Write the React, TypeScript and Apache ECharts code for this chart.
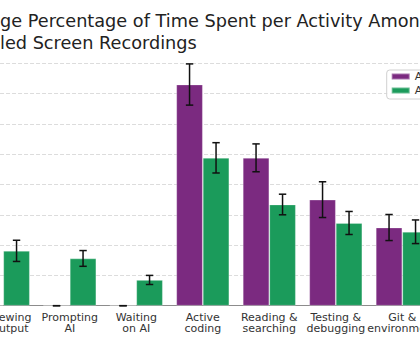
import React, { useEffect, useRef } from "react";
import * as echarts from "echarts";

const categories = [
  "Reviewing\nAI output",
  "Prompting\nAI",
  "Waiting\non AI",
  "Active\ncoding",
  "Reading &\nsearching",
  "Testing &\ndebugging",
  "Git &\nenvironment",
];
const seriesNames = ["AI Disallowed", "AI Allowed"];
const disallowed = [0, 0, 0, 36.5, 24.4, 17.5, 12.9];
const disallowedErr = [0, 0, 0, 3.4, 2.3, 2.95, 2.15];
const allowed = [9.05, 7.8, 4.25, 24.4, 16.7, 13.65, 12.2];
const allowedErr = [1.75, 1.3, 0.75, 2.5, 1.7, 1.9, 1.95];
const yTicks = [0, 5, 10, 15, 20, 25, 30, 35, 40];
const titleLine1 = "Average Percentage of Time Spent per Activity Among";
const titleLine2 = "Labeled Screen Recordings";

const FONT = "DejaVu Sans";
const PURPLE = "#7b2a80";
const GREEN = "#1b9b5b";
const SHIFT = 100;
const CHART_W = 620;
const CHART_H = 345;
const BAR_W = 26.5;

function measure(text: string, size: number): number {
  const c = document.createElement("canvas");
  const ctx = c.getContext("2d");
  if (!ctx) return 0;
  ctx.font = `${size}px "${FONT}"`;
  return ctx.measureText(text).width;
}

export default function App() {
  const ref = useRef<HTMLDivElement>(null);
  useEffect(() => {
    if (!ref.current) return;
    const chart = echarts.init(ref.current, null, { renderer: "svg" });
    const titleSize = 17.7;
    const off1 = measure("Avera", titleSize);
    const off2 = measure("Labe", titleSize);

    const errData = (vals: number[], errs: number[]) =>
      vals.map((v, i) => [i, Math.max(0, v - errs[i]), v + errs[i]]);

    const errSeries = (name: string, vals: number[], errs: number[], offset: number) => ({
      type: "custom",
      name: name + " err",
      z: 10,
      encode: { x: 0, y: [1, 2] },
      data: errData(vals, errs),
      renderItem: (params: any, api: any) => {
        const x = api.value(0);
        const pLo = api.coord([x, api.value(1)]);
        const pHi = api.coord([x, api.value(2)]);
        const cx = pLo[0] + offset;
        const cap = 3.7;
        const st = { stroke: "#111", lineWidth: 1.5 };
        return {
          type: "group",
          children: [
            { type: "line", shape: { x1: cx, y1: pHi[1], x2: cx, y2: pLo[1] }, style: st },
            { type: "line", shape: { x1: cx - cap, y1: pHi[1], x2: cx + cap, y2: pHi[1] }, style: st },
            { type: "line", shape: { x1: cx - cap, y1: pLo[1], x2: cx + cap, y2: pLo[1] }, style: st },
          ],
        };
      },
    });

    chart.setOption({
      animation: false,
      textStyle: { fontFamily: FONT },
      title: [
        {
          text: titleLine1,
          left: SHIFT - off1,
          top: 12,
          padding: 0,
          textStyle: { fontFamily: FONT, fontSize: titleSize, fontWeight: "normal", color: "#222" },
        },
        {
          text: titleLine2,
          left: SHIFT - off2,
          top: 34,
          padding: 0,
          textStyle: { fontFamily: FONT, fontSize: titleSize, fontWeight: "normal", color: "#222" },
        },
      ],
      legend: {
        data: seriesNames,
        orient: "vertical",
        left: 486.7,
        top: 70,
        padding: [1, 4, 3, 4],
        itemWidth: 18,
        itemHeight: 6,
        itemGap: 3,
        itemTextGap: 7,
        icon: "rect",
        borderColor: "#d0d0d0",
        borderWidth: 1,
        borderRadius: 3,
        backgroundColor: "rgba(255,255,255,0.85)",
        textStyle: { fontFamily: FONT, fontSize: 11, lineHeight: 10, color: "#333" },
      },
      grid: {
        left: SHIFT - 29.95,
        width: 465.5,
        top: 63.3,
        height: 242.4,
      },
      xAxis: {
        type: "category",
        data: categories,
        axisLine: { lineStyle: { color: "#8c8c8c", width: 1 } },
        axisTick: { alignWithLabel: true, interval: 0, length: 3, lineStyle: { color: "#666" } },
        axisLabel: {
          interval: 0,
          fontFamily: FONT,
          fontSize: 11,
          lineHeight: 11.5,
          color: "#333",
          margin: 6,
        },
      },
      yAxis: {
        type: "value",
        min: yTicks[0],
        max: yTicks[yTicks.length - 1],
        interval: 5,
        axisLine: { show: false },
        axisTick: { show: false },
        axisLabel: { show: false },
        splitLine: { lineStyle: { color: "#dcdcdc", type: [4, 2], width: 1 } },
      },
      series: [
        {
          type: "bar",
          name: seriesNames[0],
          data: disallowed,
          barWidth: BAR_W,
          barGap: "0%",
          itemStyle: { color: PURPLE, borderColor: "rgba(255,255,255,0.35)", borderWidth: 0.8 },
        },
        {
          type: "bar",
          name: seriesNames[1],
          data: allowed,
          barWidth: BAR_W,
          barGap: "0%",
          itemStyle: { color: GREEN, borderColor: "rgba(255,255,255,0.35)", borderWidth: 0.8 },
        },
        errSeries(seriesNames[0], disallowed, disallowedErr, -BAR_W / 2),
        errSeries(seriesNames[1], allowed, allowedErr, BAR_W / 2),
      ],
    });
    return () => chart.dispose();
  }, []);

  return (
    <div
      style={{
        position: "fixed",
        left: 0,
        top: 0,
        width: 420,
        height: 345,
        overflow: "hidden",
        background: "#fff",
      }}
    >
      <div
        ref={ref}
        style={{ position: "absolute", left: -SHIFT, top: 0, width: CHART_W, height: CHART_H }}
      />
    </div>
  );
}
